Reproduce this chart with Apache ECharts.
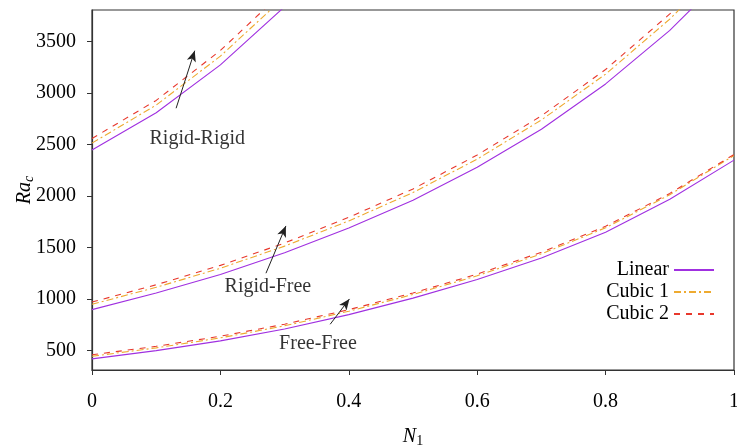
<!DOCTYPE html>
<html>
<head>
<meta charset="utf-8">
<script src="https://cdn.jsdelivr.net/npm/echarts@6/dist/echarts.min.js"></script>
<style>
  html, body { margin: 0; padding: 0; background: #fff; }
  #main { width: 737px; height: 446px; }
</style>
</head>
<body>
<div id="main"></div>
<script>
// N1 values
var n1 = [0, 0.1, 0.2, 0.3, 0.4, 0.5, 0.6, 0.7, 0.8, 0.9, 1.0];
var n1Short = [0, 0.1, 0.2, 0.3, 0.4];

// Rigid-Rigid (goes off the top after ~0.3)
var rrLinear = [2449, 2810, 3275, 3840, 4480];
var rrCubic1 = [2515, 2885, 3360, 3935, 4590];
var rrCubic2 = [2560, 2930, 3415, 4000, 4660];

// Rigid-Free
var rfLinear = [898, 1060, 1240, 1450, 1690, 1960, 2280, 2650, 3090, 3610, 4230];
var rfCubic1 = [950, 1115, 1300, 1515, 1760, 2035, 2360, 2740, 3185, 3720, 4350];
var rfCubic2 = [972, 1140, 1328, 1545, 1795, 2070, 2400, 2780, 3230, 3770, 4400];

// Free-Free
var ffLinear = [420, 500, 595, 710, 850, 1010, 1190, 1400, 1650, 1970, 2350];
var ffCubic1 = [445, 527, 624, 741, 883, 1045, 1227, 1440, 1693, 2014, 2395];
var ffCubic2 = [460, 542, 640, 757, 898, 1060, 1243, 1455, 1707, 2027, 2405];

var yTicks = [500, 1000, 1500, 2000, 2500, 3000, 3500];

// annotation arrows [tail, head] and labels, in data units
var arrows = [
  [[0.131, 2854], [0.160, 3413]],
  [[0.271, 1252], [0.302, 1711]],
  [[0.371, 756], [0.401, 1002]]
];
var labels = [
  ['Rigid-Rigid', 0.164, 2560],
  ['Rigid-Free', 0.274, 1118],
  ['Free-Free', 0.352, 570]
];

var FONT = 'Liberation Serif';
var TXT = '#000';
var colLinear = '#a030e0';
var colCubic1 = '#eeaa30';
var colCubic2 = '#e8382c';

function pairs(xs, ys) {
  var out = [];
  for (var i = 0; i < ys.length; i++) out.push([xs[i], ys[i]]);
  return out;
}

function mk(name, xs, ys, color, type) {
  return {
    name: name,
    type: 'line',
    data: pairs(xs, ys),
    symbol: 'none',
    showSymbol: false,
    animation: false,
    clip: true,
    lineStyle: { color: color, width: 1.1, type: type },
    itemStyle: { color: color }
  };
}

var dashDot = [7, 3, 2, 3];
var dash = [6, 6];

var series = [
  mk('Linear', n1Short, rrLinear, colLinear, 'solid'),
  mk('Cubic 1', n1Short, rrCubic1, colCubic1, dashDot),
  mk('Cubic 2', n1Short, rrCubic2, colCubic2, dash),
  mk('Linear', n1, rfLinear, colLinear, 'solid'),
  mk('Cubic 1', n1, rfCubic1, colCubic1, dashDot),
  mk('Cubic 2', n1, rfCubic2, colCubic2, dash),
  mk('Linear', n1, ffLinear, colLinear, 'solid'),
  mk('Cubic 1', n1, ffCubic1, colCubic1, dashDot),
  mk('Cubic 2', n1, ffCubic2, colCubic2, dash)
];

// annotations: arrows + labels
series.push({
  name: 'notes',
  type: 'scatter',
  data: labels.map(function (l) { return [l[1], l[2]]; }),
  symbolSize: 0,
  silent: true,
  animation: false,
  label: {
    show: true,
    position: 'inside',
    formatter: function (p) { return labels[p.dataIndex][0]; },
    fontFamily: FONT,
    fontSize: 20,
    color: TXT
  },
  markLine: {
    silent: true,
    animation: false,
    symbol: ['none', 'arrow'],
    symbolSize: [7, 11],
    label: { show: false },
    lineStyle: { color: '#222', width: 1, type: 'solid' },
    data: arrows.map(function (a) {
      return [{ coord: a[0] }, { coord: a[1] }];
    })
  }
});

var chart = echarts.init(document.getElementById('main'));
chart.setOption({
  backgroundColor: '#fff',
  animation: false,
  grid: {
    left: 92, right: 3, top: 10, bottom: 76,
    show: true, borderColor: '#333', borderWidth: 1.2,
    containLabel: false,
    outerBoundsMode: 'none'
  },
  legend: {
    data: ['Linear', 'Cubic 1', 'Cubic 2'],
    orient: 'vertical',
    align: 'right',
    right: 17,
    top: 255,
    itemWidth: 40,
    itemHeight: 10,
    itemGap: 2,
    itemStyle: { opacity: 0 },
    textStyle: { fontFamily: FONT, fontSize: 20, lineHeight: 20, color: TXT },
    selectedMode: false
  },
  xAxis: {
    type: 'value',
    min: 0, max: 1, interval: 0.2,
    name: '{i|N}{s|1}',
    nameLocation: 'middle',
    nameGap: 56,
    nameTextStyle: {
      rich: {
        i: { fontFamily: FONT, fontStyle: 'italic', fontSize: 20, color: TXT },
        s: { fontFamily: FONT, fontSize: 14, color: TXT, verticalAlign: 'bottom', padding: [8, 0, 0, 0] }
      }
    },
    axisLine: { show: true, lineStyle: { color: '#333', width: 1.2 } },
    axisTick: { show: true, inside: false, length: 5, lineStyle: { color: '#333' } },
    axisLabel: { fontFamily: FONT, fontSize: 20, color: TXT, margin: 22 },
    splitLine: { show: false }
  },
  yAxis: {
    type: 'value',
    min: 312, max: 3808,
    name: '{i|Ra}{s|c}',
    nameLocation: 'middle',
    nameRotate: 90,
    nameGap: 56,
    nameMoveOverlap: false,
    nameTextStyle: {
      rich: {
        i: { fontFamily: FONT, fontStyle: 'italic', fontSize: 20, color: TXT },
        s: { fontFamily: FONT, fontStyle: 'italic', fontSize: 14, color: TXT, verticalAlign: 'bottom', padding: [8, 0, 0, 0] }
      }
    },
    axisLine: { show: true, lineStyle: { color: '#333', width: 1.2 } },
    axisTick: { show: true, inside: false, length: 5, customValues: yTicks, lineStyle: { color: '#333' } },
    axisLabel: {
      fontFamily: FONT, fontSize: 20, color: TXT, margin: 16, customValues: yTicks,
      formatter: function (v) { return String(v); }
    },
    splitLine: { show: false }
  },
  series: series
});
</script>
</body>
</html>
